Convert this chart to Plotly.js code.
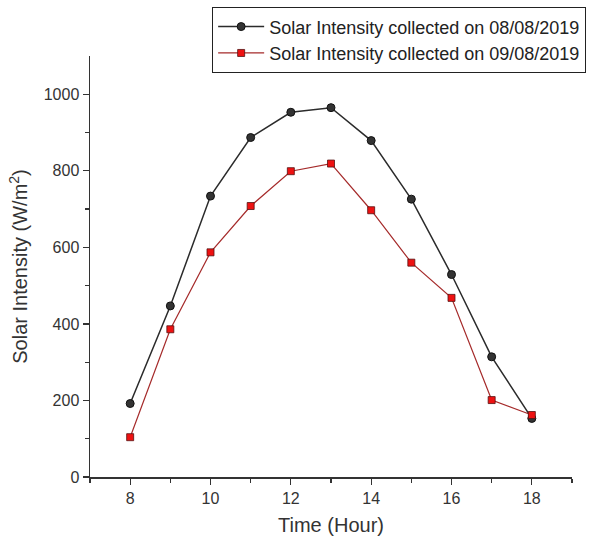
<!DOCTYPE html>
<html><head><meta charset="utf-8">
<script src="https://cdn.plot.ly/plotly-3.0.1.min.js"></script>
<style>html,body{margin:0;padding:0;background:#fff}</style>
</head><body>
<div id="chart" style="width:601px;height:545px"></div>
<script>
const hours = [8, 9, 10, 11, 12, 13, 14, 15, 16, 17, 18];
const day1 = [192, 447, 734, 887, 953, 965, 879, 726, 529, 314, 153];
const day2 = [104, 386, 587, 708, 799, 819, 697, 560, 468, 201, 162];
const name1 = 'Solar Intensity collected on 08/08/2019';
const name2 = 'Solar Intensity collected on 09/08/2019';

const traces = [
  {x: hours, y: day1, name: name1, type: 'scatter', mode: 'lines+markers',
   line: {color: '#2b2b2b', width: 1.5},
   marker: {symbol: 'circle', size: 8, color: '#333333', line: {color: '#111', width: 1}}},
  {x: hours, y: day2, name: name2, type: 'scatter', mode: 'lines+markers',
   line: {color: '#a52a2a', width: 1.2},
   marker: {symbol: 'square', size: 7, color: '#ee1111', line: {color: '#551111', width: 0.8}}}
];

const layout = {
  width: 601, height: 545,
  margin: {l: 90, r: 29, t: 56, b: 68, autoexpand: false},
  paper_bgcolor: '#fff', plot_bgcolor: '#fff',
  font: {family: 'Liberation Sans, Arial, sans-serif', color: '#333'},
  showlegend: true,
  legend: {x: 0.253, xanchor: 'left', y: 1.116, yanchor: 'top',
    bgcolor: '#fff', bordercolor: '#222', borderwidth: 1.2,
    font: {size: 18, color: '#222'}, tracegroupgap: 0, itemwidth: 46},
  xaxis: {range: [7, 19], tickvals: [8, 10, 12, 14, 16, 18],
    showgrid: false, zeroline: false, showline: true, linecolor: '#333', linewidth: 1.5,
    ticks: 'outside', ticklen: 6, tickwidth: 1.2, tickcolor: '#333',
    minor: {tickvals: [7, 9, 11, 13, 15, 17, 19], ticks: 'outside', ticklen: 4, tickcolor: '#333', showgrid: false},
    tickfont: {size: 16, color: '#333'},
    title: {text: 'Time (Hour)', font: {size: 20, color: '#333'}, standoff: 12}},
  yaxis: {range: [0, 1100], tickvals: [0, 200, 400, 600, 800, 1000],
    showgrid: false, zeroline: false, showline: true, linecolor: '#333', linewidth: 1.5,
    ticks: 'outside', ticklen: 6, tickwidth: 1.2, tickcolor: '#333',
    minor: {tickvals: [100, 300, 500, 700, 900], ticks: 'outside', ticklen: 4, tickcolor: '#333', showgrid: false},
    tickfont: {size: 16, color: '#333'},
    title: {text: 'Solar Intensity (W/m<sup>2</sup>)', font: {size: 20, color: '#333'}, standoff: 10}}
};

Plotly.newPlot('chart', traces, layout, {displayModeBar: false, staticPlot: true});
</script>
</body></html>
